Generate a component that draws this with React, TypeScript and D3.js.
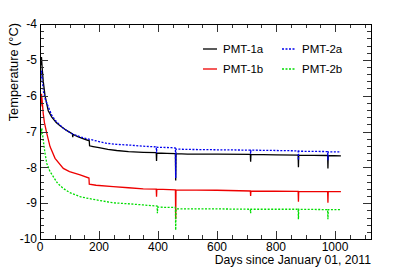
import React from "react";
import * as d3 from "d3";

const W = 399;
const H = 272;

// [day, temperature °C]
const pmt1a: [number, number][] = [
  [3, -5.15], [5, -4.92], [8, -5.3], [11, -5.6], [17, -6.0], [28, -6.42], [40, -6.6], [55, -6.75], [68, -6.84],
  [90, -6.97], [110, -7.07], [111, -7.16], [112, -7.08], [130, -7.15], [150, -7.21], [167, -7.26], [168, -7.4],
  [180, -7.42], [200, -7.45], [230, -7.5], [260, -7.53], [300, -7.56], [350, -7.58], [394, -7.59], [395, -7.82],
  [396, -7.6], [430, -7.61], [459, -7.62], [460, -8.37], [461, -7.62], [500, -7.63], [600, -7.63], [713, -7.64],
  [714, -7.84], [715, -7.64], [800, -7.65], [875, -7.66], [876, -8.0], [877, -7.66], [975, -7.67], [976, -8.03],
  [977, -7.67], [1020, -7.68],
];

const pmt1b: [number, number][] = [
  [3, -6.3], [5, -5.95], [8, -6.2], [11, -6.5], [15, -6.75], [23, -7.05], [34, -7.42], [51, -7.75], [79, -8.03],
  [100, -8.12], [136, -8.21], [166, -8.3], [167, -8.47], [190, -8.5], [248, -8.54], [300, -8.57], [350, -8.6],
  [394, -8.61], [395, -8.82], [396, -8.61], [459, -8.63], [460, -9.45], [461, -8.63], [600, -8.64], [713, -8.66],
  [714, -8.8], [715, -8.66], [875, -8.67], [876, -8.96], [877, -8.67], [975, -8.68], [976, -8.99], [977, -8.68],
  [1020, -8.68],
];

const pmt2a: [number, number][] = [
  [2, -5.6], [5, -5.3], [8, -5.6], [12, -5.9], [18, -6.1], [28, -6.31], [40, -6.55], [55, -6.72], [79, -6.91],
  [100, -7.02], [113, -7.08], [140, -7.16], [164, -7.21], [200, -7.28], [226, -7.33], [260, -7.36], [305, -7.38],
  [350, -7.41], [394, -7.43], [395, -7.6], [396, -7.44], [445, -7.45], [459, -7.46], [460, -8.3], [461, -7.49],
  [500, -7.5], [600, -7.51], [713, -7.52], [714, -7.62], [715, -7.52], [800, -7.53], [875, -7.54], [876, -7.8],
  [877, -7.55], [975, -7.56], [976, -7.8], [977, -7.57], [1020, -7.57],
];

const pmt2b: [number, number][] = [
  [3, -7.1], [6, -6.91], [9, -7.1], [11, -7.24], [17, -7.61], [23, -7.89], [34, -8.12], [45, -8.26], [60, -8.45],
  [79, -8.59], [100, -8.7], [136, -8.82], [165, -8.87], [192, -8.91], [248, -8.99], [305, -9.02], [350, -9.05],
  [397, -9.08], [398, -9.28], [399, -9.11], [445, -9.12], [459, -9.12], [460, -9.75], [461, -9.16], [600, -9.16],
  [713, -9.17], [714, -9.28], [715, -9.17], [875, -9.17], [876, -9.45], [877, -9.17], [975, -9.18], [976, -9.45],
  [977, -9.18], [1020, -9.18],
];

const seriesNames = ["PMT-1a", "PMT-1b", "PMT-2a", "PMT-2b"];
const seriesColors = ["#000000", "#ee0000", "#0000ee", "#00dd00"];
const seriesDashed = [false, false, true, true];
const seriesData = [pmt1a, pmt1b, pmt2a, pmt2b];

const xTicks = [0, 200, 400, 600, 800, 1000];
const yTicks = [-10, -9, -8, -7, -6, -5, -4];

const left = 40, right = 371, top = 24, bottom = 239;

export default function App() {
  const x = d3.scaleLinear().domain([0, 1122]).range([left, right]);
  const y = d3.scaleLinear().domain([-10, -4]).range([bottom, top]);
  const line = d3.line<[number, number]>().x((d) => x(d[0])).y((d) => y(d[1]));

  const xMinor = d3.range(0, 1122, 50);
  const yMinor = d3.range(-10, -3.99, 0.2);
  const font = "Liberation Sans, Arial, Helvetica, sans-serif";

  const legendPos = [
    { lx: 203, ly: 49 },
    { lx: 203, ly: 69 },
    { lx: 282, ly: 49 },
    { lx: 282, ly: 69 },
  ];

  return (
    <svg width={W} height={H} style={{ position: "absolute", left: 0, top: 0, background: "#fff" }} fontFamily={font}>
      <defs>
        <clipPath id="clip">
          <rect x={left} y={top} width={right - left} height={bottom - top} />
        </clipPath>
      </defs>
      <g clipPath="url(#clip)">
        {seriesData.map((s, i) => (
          <path key={i} d={line(s) || ""} fill="none" stroke={seriesColors[i]} strokeWidth={1.3}
            strokeDasharray={seriesDashed[i] ? "2,1.5" : undefined} />
        ))}
      </g>
      {/* ticks */}
      <g stroke="#333" strokeWidth={1}>
        {xMinor.map((v) => {
          const major = v % 200 === 0;
          const len = major ? 8 : 4;
          const px = Math.round(x(v)) + 0.5;
          return (
            <g key={"x" + v}>
              <line x1={px} x2={px} y1={bottom} y2={bottom - len} />
              <line x1={px} x2={px} y1={top} y2={top + len} />
            </g>
          );
        })}
        {yMinor.map((v, i) => {
          const major = i % 5 === 0;
          const len = major ? 8 : 4;
          const py = Math.round(y(v)) + 0.5;
          return (
            <g key={"y" + i}>
              <line x1={left} x2={left + len} y1={py} y2={py} />
              <line x1={right} x2={right - len} y1={py} y2={py} />
            </g>
          );
        })}
      </g>
      <rect x={left + 0.5} y={top + 0.5} width={right - left} height={bottom - top} fill="none" stroke="#000" strokeWidth={1} />
      {xTicks.map((v) => (
        <text key={"xl" + v} x={x(v)} y={251} fontSize={12} textAnchor="middle">{v}</text>
      ))}
      {yTicks.map((v) => (
        <text key={"yl" + v} x={37} y={y(v) + 4.3} fontSize={12} textAnchor="end">{v}</text>
      ))}
      <text x={right} y={264} fontSize={12.2} textAnchor="end">Days since January 01, 2011</text>
      <text transform={`translate(18,${top - 1}) rotate(-90)`} fontSize={12.8} textAnchor="end">Temperature (°C)</text>
      {seriesNames.map((n, i) => (
        <g key={n}>
          <line x1={legendPos[i].lx} x2={legendPos[i].lx + 14} y1={legendPos[i].ly} y2={legendPos[i].ly}
            stroke={seriesColors[i]} strokeWidth={1.3} strokeDasharray={seriesDashed[i] ? "2,1.5" : undefined} />
          <text x={legendPos[i].lx + 20} y={legendPos[i].ly + 4.3} fontSize={11.5}>{n}</text>
        </g>
      ))}
    </svg>
  );
}
